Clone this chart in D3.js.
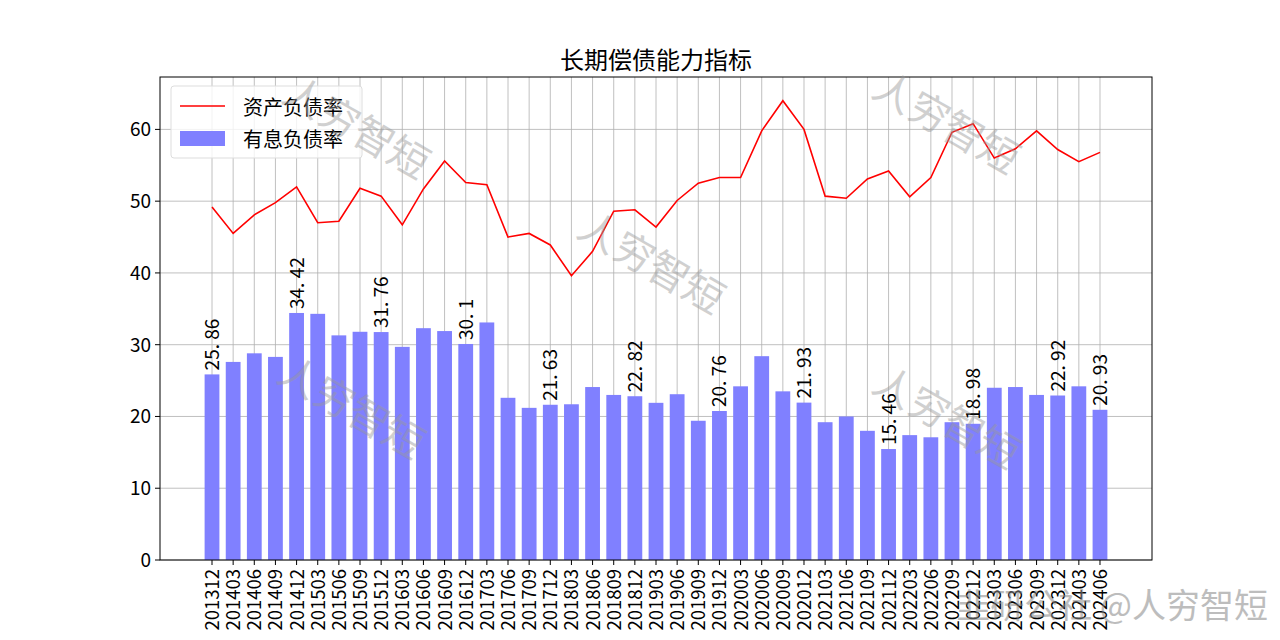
<!DOCTYPE html><html><head><meta charset="utf-8"><script src="https://cdn.jsdelivr.net/npm/d3@7"></script>
<style>body{margin:0;background:#fff}text{font-family:"Noto Sans CJK SC","DejaVu Sans",sans-serif}</style></head><body><svg id="c" width="1280" height="640"></svg><script>
const categories=["201312","201403","201406","201409","201412","201503","201506","201509","201512","201603","201606","201609","201612","201703","201706","201709","201712","201803","201806","201809","201812","201903","201906","201909","201912","202003","202006","202009","202012","202103","202106","202109","202112","202203","202206","202209","202212","202303","202306","202309","202312","202403","202406"];
const debtRatio=[49.2,45.5,48.1,49.8,52.0,47.0,47.2,51.8,50.7,46.7,51.7,55.6,52.6,52.3,45.0,45.5,43.9,39.6,43.0,48.6,48.8,46.4,50.1,52.5,53.3,53.3,59.8,64.0,60.0,50.7,50.4,53.1,54.2,50.6,53.3,59.6,60.8,56.0,57.3,59.8,57.2,55.5,56.8];
const interestDebt=[25.86,27.6,28.8,28.3,34.42,34.3,31.3,31.8,31.76,29.7,32.3,31.9,30.1,33.1,22.6,21.2,21.63,21.7,24.1,23.0,22.82,21.9,23.1,19.4,20.76,24.2,28.4,23.5,21.93,19.2,20.0,18.0,15.46,17.4,17.1,19.2,18.98,24.0,24.1,23.0,22.92,24.2,20.93];
const yTicks=[0,10,20,30,40,50,60];
const svg=d3.select("#c");
const L=160,R=1152,T=77,B=560;
const step=(R-L)/(categories.length-1+2*2.46);
const x=d3.scaleLinear().domain([-2.46,categories.length-1+2.46]).range([L,R]);
const y=d3.scaleLinear().domain([0,67.3]).range([B,T]);
const g=svg.append("g");
g.selectAll(".gx").data(categories).enter().append("line").attr("x1",(d,i)=>x(i)).attr("x2",(d,i)=>x(i)).attr("y1",T).attr("y2",B).attr("stroke","#b0b0b0").attr("stroke-width",0.8);
g.selectAll(".gy").data(yTicks).enter().append("line").attr("x1",L).attr("x2",R).attr("y1",d=>y(d)).attr("y2",d=>y(d)).attr("stroke","#b0b0b0").attr("stroke-width",0.8);
const bw=step*0.7;
g.selectAll(".bar").data(interestDebt).enter().append("rect").attr("x",(d,i)=>x(i)-bw/2).attr("width",bw).attr("y",d=>y(d)).attr("height",d=>B-y(d)).attr("fill","#8080ff");
g.append("path").datum(debtRatio).attr("d",d3.line().x((d,i)=>x(i)).y(d=>y(d))).attr("fill","none").attr("stroke","red").attr("stroke-width",1.6);
interestDebt.forEach((v,i)=>{if(i%4===0||i===categories.length-1){g.append("text").attr("transform",`translate(${x(i)+7},${y(v)-4}) rotate(-90)`).attr("font-size",19).text(String(v).replace(".",". "));}});
svg.append("rect").attr("x",L).attr("y",T).attr("width",R-L).attr("height",B-T).attr("fill","none").attr("stroke","#000").attr("stroke-width",1);
yTicks.forEach(t=>{svg.append("line").attr("x1",L-5).attr("x2",L).attr("y1",y(t)).attr("y2",y(t)).attr("stroke","#000");svg.append("text").attr("x",L-9).attr("y",y(t)+7).attr("text-anchor","end").attr("font-size",19).text(t);});
categories.forEach((c,i)=>{svg.append("line").attr("x1",x(i)).attr("x2",x(i)).attr("y1",B).attr("y2",B+5).attr("stroke","#000");svg.append("text").attr("transform",`translate(${x(i)+7},${B+9}) rotate(-90)`).attr("text-anchor","end").attr("font-size",18.5).text(c);});
svg.append("text").attr("x",(L+R)/2).attr("y",69).attr("text-anchor","middle").attr("font-size",24).text("长期偿债能力指标");
const lg=svg.append("g");
lg.append("rect").attr("x",171).attr("y",86).attr("width",191).attr("height",72).attr("rx",3).attr("fill","rgba(255,255,255,0.8)").attr("stroke","#ddd");
lg.append("line").attr("x1",180).attr("x2",225).attr("y1",106).attr("y2",106).attr("stroke","red").attr("stroke-width",1.6);
lg.append("rect").attr("x",180).attr("y",131).attr("width",45).attr("height",15).attr("fill","#8080ff");
lg.append("text").attr("x",243).attr("y",115).attr("font-size",20).text("资产负债率");
lg.append("text").attr("x",243).attr("y",147).attr("font-size",20).text("有息负债率");
[[280,100],[575,235],[275,380],[870,95],[870,390]].forEach(([a,b])=>{svg.append("text").attr("transform",`translate(${a},${b}) rotate(30)`).attr("font-size",40).attr("fill","#999").attr("opacity",0.45).text("人穷智短");});
svg.append("text").attr("x",1268).attr("y",618).attr("text-anchor","end").attr("font-size",34).attr("fill","#888").attr("opacity",0.55).text("韭研公社 @人穷智短");
</script></body></html>
